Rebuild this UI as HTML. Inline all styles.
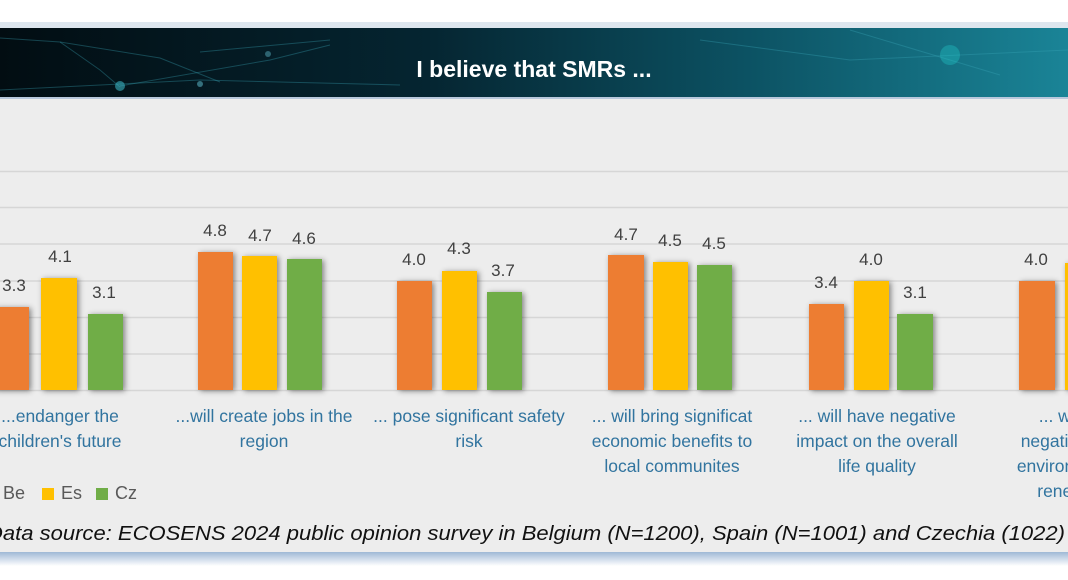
<!DOCTYPE html>
<html><head><meta charset="utf-8"><style>
html,body{margin:0;padding:0;background:#fff;width:1068px;height:580px;overflow:hidden}
svg{display:block}
</style></head><body>
<svg width="1068" height="580" viewBox="0 0 1068 580" xmlns="http://www.w3.org/2000/svg" font-family="Liberation Sans, sans-serif">
<defs>
<linearGradient id="bn" x1="0" x2="1" y1="0" y2="0">
<stop offset="0" stop-color="#020d12"/><stop offset="0.4" stop-color="#052531"/><stop offset="0.7" stop-color="#0c5263"/><stop offset="1" stop-color="#1a8497"/>
</linearGradient>
<linearGradient id="sh" x1="0" x2="0" y1="0" y2="1"><stop offset="0" stop-color="#9fb8d6"/><stop offset="1" stop-color="#fff"/></linearGradient>
<filter id="ds" x="-30%" y="-20%" width="160%" height="140%"><feDropShadow dx="2" dy="1" stdDeviation="3" flood-color="#000" flood-opacity="0.45"/></filter>
</defs>
<rect x="0" y="22" width="1068" height="6" fill="#dde6ee"/>
<rect x="0" y="28" width="1068" height="69" fill="url(#bn)"/>
<g stroke="#3aa6b8" stroke-opacity="0.35" stroke-width="1" fill="none">
<path d="M0 38 L60 42 L100 70 L120 87"/><path d="M60 42 L160 58 L220 82"/><path d="M120 86 L270 60 L330 45"/><path d="M200 52 L330 40"/><path d="M0 90 L200 80 L400 85"/><path d="M700 40 L850 60 L1068 50"/><path d="M850 30 L1000 75"/>
</g>
<circle cx="120" cy="86" r="5" fill="#3ab0c0" opacity="0.6"/><circle cx="200" cy="84" r="3" fill="#5ab" opacity="0.6"/><circle cx="268" cy="54" r="3" fill="#5ab" opacity="0.5"/><circle cx="950" cy="55" r="10" fill="#2cc" opacity="0.35"/>
<text x="534" y="77" text-anchor="middle" fill="#fff" font-size="23" font-weight="bold">I believe that SMRs ...</text>
<rect x="0" y="97" width="1068" height="2" fill="#b8c8dc"/>
<rect x="0" y="99" width="1068" height="453" fill="#ededed"/>
<rect x="0" y="552" width="1068" height="14" fill="url(#sh)"/>
<g stroke="#d6d6d6" stroke-width="1.5">
<line x1="0" x2="1068" y1="171.5" y2="171.5"/><line x1="0" x2="1068" y1="207.5" y2="207.5"/><line x1="0" x2="1068" y1="244" y2="244"/><line x1="0" x2="1068" y1="281" y2="281"/><line x1="0" x2="1068" y1="317.5" y2="317.5"/><line x1="0" x2="1068" y1="354" y2="354"/><line x1="0" x2="1068" y1="390.5" y2="390.5"/>
</g>
<g filter="url(#ds)">
<rect x="-6" y="307" width="35" height="83" fill="#ed7d31"/><rect x="41" y="278" width="36" height="112" fill="#ffc000"/><rect x="88" y="314" width="35" height="76" fill="#70ad47"/>
<rect x="198" y="252" width="35" height="138" fill="#ed7d31"/><rect x="242" y="256" width="35" height="134" fill="#ffc000"/><rect x="287" y="259" width="35" height="131" fill="#70ad47"/>
<rect x="397" y="281" width="35" height="109" fill="#ed7d31"/><rect x="442" y="271" width="35" height="119" fill="#ffc000"/><rect x="487" y="292" width="35" height="98" fill="#70ad47"/>
<rect x="608" y="255" width="36" height="135" fill="#ed7d31"/><rect x="653" y="262" width="35" height="128" fill="#ffc000"/><rect x="697" y="265" width="35" height="125" fill="#70ad47"/>
<rect x="809" y="304" width="35" height="86" fill="#ed7d31"/><rect x="854" y="281" width="35" height="109" fill="#ffc000"/><rect x="897" y="314" width="36" height="76" fill="#70ad47"/>
<rect x="1019" y="281" width="36" height="109" fill="#ed7d31"/><rect x="1065" y="263" width="35" height="127" fill="#ffc000"/>
</g>
<g fill="#404040" font-size="17" text-anchor="middle">
<text x="14" y="291">3.3</text><text x="60" y="262">4.1</text><text x="104" y="298">3.1</text>
<text x="215" y="236">4.8</text><text x="260" y="241">4.7</text><text x="304" y="244">4.6</text>
<text x="414" y="265">4.0</text><text x="459" y="254">4.3</text><text x="503" y="276">3.7</text>
<text x="626" y="240">4.7</text><text x="670" y="246">4.5</text><text x="714" y="249">4.5</text>
<text x="826" y="288">3.4</text><text x="871" y="265">4.0</text><text x="915" y="298">3.1</text>
<text x="1036" y="265">4.0</text>
</g>
<g fill="#31749f" font-size="17.5" text-anchor="middle">
<text x="60" y="422">...endanger the</text><text x="60" y="447">children's future</text>
<text x="264" y="422">...will create jobs in the</text><text x="264" y="447">region</text>
<text x="469" y="422">... pose significant safety</text><text x="469" y="447">risk</text>
<text x="672" y="422">... will bring significat</text><text x="672" y="447">economic benefits to</text><text x="672" y="472">local communites</text>
<text x="877" y="422">... will have negative</text><text x="877" y="447">impact on the overall</text><text x="877" y="472">life quality</text>
<text x="1082" y="422">... will have</text><text x="1082" y="447">negative impact</text><text x="1082" y="472">environment and</text><text x="1082" y="497">renewables</text>
</g>
<g font-size="18" fill="#595959">
<text x="3" y="499">Be</text>
<rect x="42" y="488" width="12" height="12" fill="#ffc000"/><text x="61" y="499">Es</text>
<rect x="96" y="488" width="12" height="12" fill="#70ad47"/><text x="115" y="499">Cz</text>
</g>
<text x="-13" y="540" font-size="20" font-style="italic" fill="#111" textLength="1078" lengthAdjust="spacingAndGlyphs">Data source: ECOSENS 2024 public opinion survey in Belgium (N=1200), Spain (N=1001) and Czechia (1022)</text>
</svg>
</body></html>
